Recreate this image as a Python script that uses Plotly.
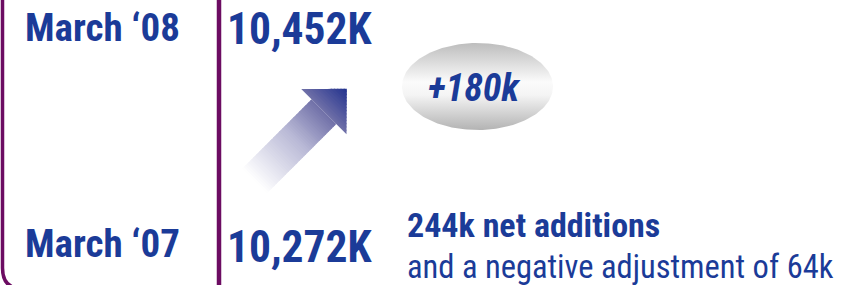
import math
import plotly.graph_objects as go

# ---- content ----
period_labels = ["March \u201808", "March \u201807"]
subscriber_values = ["10,452K", "10,272K"]
change_label = "+180k"
net_additions_text = "244k net additions"
adjustment_text = "and a negative adjustment of 64k"

W, H = 852, 285
BLUE = "#1B3B98"
PURPLE = "#6C0C62"
FONT = "Roboto Condensed, Liberation Sans Narrow, sans-serif"

fig = go.Figure()

# ---- frame lines ----
shapes = [
    dict(type="path", path="M 2.5 -5 L 2.5 268 Q 2.5 289 23 289 L 240 289",
         line=dict(color=PURPLE, width=3.5)),
    dict(type="line", x0=219, x1=219, y0=-5, y1=295, line=dict(color=PURPLE, width=4.5)),
]

# ---- gradient arrow (drawn as thin strips along its axis) ----
r2 = math.sqrt(2)
t_c = 308.0
s_tail, s_base, s_tip = 52.0, 150.0, 182.5
shaft_hw, head_hw = 17.5, 32.0

def halfwidth(s, head):
    if head:
        return head_hw * (s_tip - s) / (s_tip - s_base)
    return shaft_hw

def to_xy(s, t):
    return (s + t) / r2, (t - s) / r2

def lerp_col(c0, c1, f):
    return tuple(c0[i] + (c1[i] - c0[i]) * f for i in range(3))

stops = [(0.0, (255, 255, 255)), (0.45, (185, 185, 214)), (0.75, (112, 112, 168)), (1.0, (34, 50, 142))]

def col_at(f):
    for (f0, c0), (f1, c1) in zip(stops[:-1], stops[1:]):
        if f <= f1:
            return lerp_col(c0, c1, (f - f0) / (f1 - f0))
    return stops[-1][1]

n_shaft, n_head = 45, 14
segments = []
for i in range(n_shaft):
    a = s_tail + (s_base - s_tail) * i / n_shaft
    b = s_tail + (s_base - s_tail) * (i + 1) / n_shaft
    segments.append((a, b, False, i == n_shaft - 1))
for i in range(n_head):
    a = s_base + (s_tip - s_base) * i / n_head
    b = s_base + (s_tip - s_base) * (i + 1) / n_head
    segments.append((a, b, True, i == n_head - 1))

for a, b, head, last in segments:
    b_ext = b if last else b + 0.8
    ha, hb = halfwidth(a, head), halfwidth(b_ext, head)
    pts = [to_xy(a, t_c - ha), to_xy(b_ext, t_c - hb), to_xy(b_ext, t_c + hb), to_xy(a, t_c + ha)]
    path = "M " + " L ".join(f"{x:.2f} {y:.2f}" for x, y in pts) + " Z"
    f = (0.5 * (a + b) - s_tail) / (s_tip - s_tail)
    c = col_at(f)
    shapes.append(dict(type="path", path=path, fillcolor=f"rgb({c[0]:.0f},{c[1]:.0f},{c[2]:.0f})",
                       line=dict(width=0), layer="below"))

# ---- ellipse with vertical grey gradient ----
cx, cy, rx, ry = 477.5, 86.5, 75.5, 43.5
ang = [2 * math.pi * k / 180 for k in range(181)]
fig.add_trace(go.Scatter(
    x=[cx + rx * math.cos(a) for a in ang],
    y=[cy + ry * math.sin(a) for a in ang],
    mode="lines", fill="toself", line=dict(width=0),
    fillgradient=dict(type="vertical", start=cy - ry, stop=cy + ry,
                      colorscale=[[0, "#bdbdbd"], [0.45, "#fbfbfb"], [0.6, "#f4f4f4"], [1, "#b3b3b3"]]),
    hoverinfo="skip", showlegend=False,
))

annotations = [
    dict(x=23, y=28, text=f"<b>{period_labels[0]}</b>", font=dict(size=39, color=BLUE, family=FONT)),
    dict(x=23, y=244, text=f"<b>{period_labels[1]}</b>", font=dict(size=39, color=BLUE, family=FONT)),
    dict(x=225, y=29, text=f"<b>{subscriber_values[0]}</b>", font=dict(size=43.5, color=BLUE, family=FONT)),
    dict(x=225, y=247, text=f"<b>{subscriber_values[1]}</b>", font=dict(size=43.5, color=BLUE, family=FONT)),
    dict(x=426, y=88, text=f"<b><i>{change_label}</i></b>", font=dict(size=38, color=BLUE, family=FONT)),
    dict(x=405, y=225, text=f"<b>{net_additions_text}</b>", font=dict(size=34, color=BLUE, family=FONT)),
    dict(x=405, y=267, text=adjustment_text, font=dict(size=32.5, color=BLUE, family=FONT)),
]
for a in annotations:
    a.update(xref="x", yref="y", xanchor="left", yanchor="middle", showarrow=False)

fig.update_layout(
    width=W, height=H, margin=dict(l=0, r=0, t=0, b=0),
    paper_bgcolor="white", plot_bgcolor="white",
    xaxis=dict(range=[0, W], visible=False, fixedrange=True),
    yaxis=dict(range=[H, 0], visible=False, fixedrange=True),
    shapes=shapes, annotations=annotations, showlegend=False,
)
fig.write_html("out.html", config={"displayModeBar": False},
               post_script="document.body.style.margin='0';document.body.style.overflow='hidden';")
